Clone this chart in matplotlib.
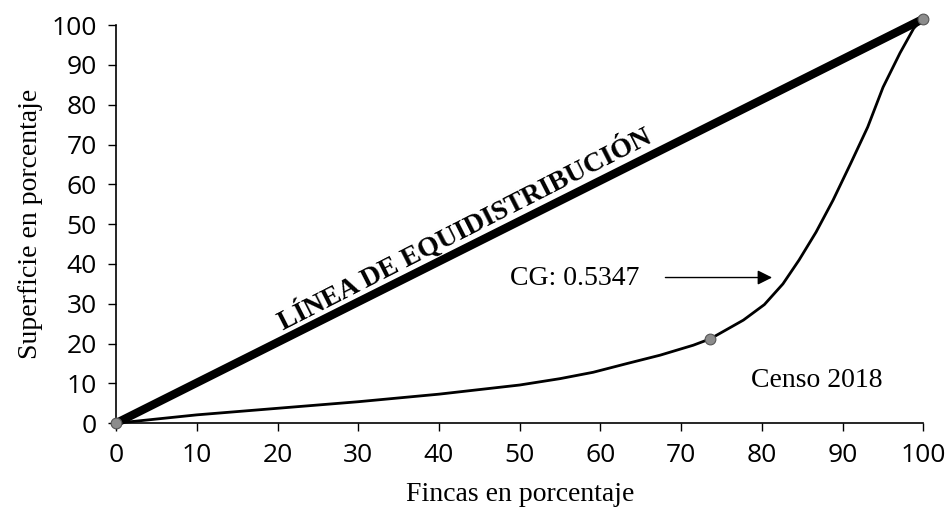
import numpy as np
import matplotlib
matplotlib.use("Agg")
import matplotlib.pyplot as plt

# Lorenz curve (percent of farms vs percent of area)
fincas = [0, 10, 20, 30, 40, 50, 55.0, 59.1, 63.3, 67.4, 71.5, 73.6, 77.7, 80.3,
          82.6, 84.6, 86.7, 88.8, 91.0, 93.1, 95.0, 97.1, 98.8, 99.9]
superficie = [0, 2.1, 3.75, 5.4, 7.3, 9.6, 11.2, 12.8, 15.0, 17.1, 19.6, 21.2, 25.9, 29.8,
              35.0, 41.0, 48.0, 56.0, 65.3, 74.4, 84.4, 93.0, 99.2, 101.5]
puntos_x = [0, 73.6, 99.9]
puntos_y = [0, 21.2, 101.5]
equi_x = [0, 99.9]
equi_y = [0, 101.5]
ticks = list(range(0, 101, 10))

serif = "Liberation Serif"
sans = "Open Sans"

fig = plt.figure(figsize=(9.51, 5.13), dpi=100)
ax = fig.add_axes([0.122, 0.175, 0.849, 0.776])

ax.plot(equi_x, equi_y, color="black", lw=6, solid_capstyle="butt", clip_on=False, zorder=3)
ax.plot(fincas, superficie, color="black", lw=2, clip_on=False, zorder=3)
ax.scatter(puntos_x, puntos_y, s=60, color="#8c8c8c", edgecolor="#555555", lw=0.8,
           clip_on=False, zorder=5)

ax.text(43.2, 48.8, "LÍNEA DE EQUIDISTRIBUCIÓN", rotation=27, rotation_mode="anchor",
        ha="center", va="center", fontsize=20, fontweight="bold", family=serif)
ax.text(48.8, 36.4, "CG: 0.5347", ha="left", va="center", fontsize=20, family=serif)
ax.annotate("", xy=(81.6, 36.6), xytext=(67.7, 36.6),
            arrowprops=dict(arrowstyle="-|>", color="black", lw=1.0, mutation_scale=22))
ax.text(78.6, 10.8, "Censo 2018", ha="left", va="center", fontsize=20, family=serif)

ax.set_xlim(0, 100)
ax.set_ylim(0, 100)
ax.set_xticks(ticks)
ax.set_yticks(ticks)
ax.tick_params(axis="both", direction="out", length=6, width=1, labelsize=19, pad=8)
for lab in ax.get_xticklabels() + ax.get_yticklabels():
    lab.set_family(sans)
for s in ["top", "right"]:
    ax.spines[s].set_visible(False)
for s in ["left", "bottom"]:
    ax.spines[s].set_linewidth(1.2)

ax.set_xlabel("Fincas en porcentaje", fontsize=20, family=serif, labelpad=10)
ax.set_ylabel("Superficie en porcentaje", fontsize=20, family=serif, labelpad=6)

fig.savefig("out.png", dpi=100)
